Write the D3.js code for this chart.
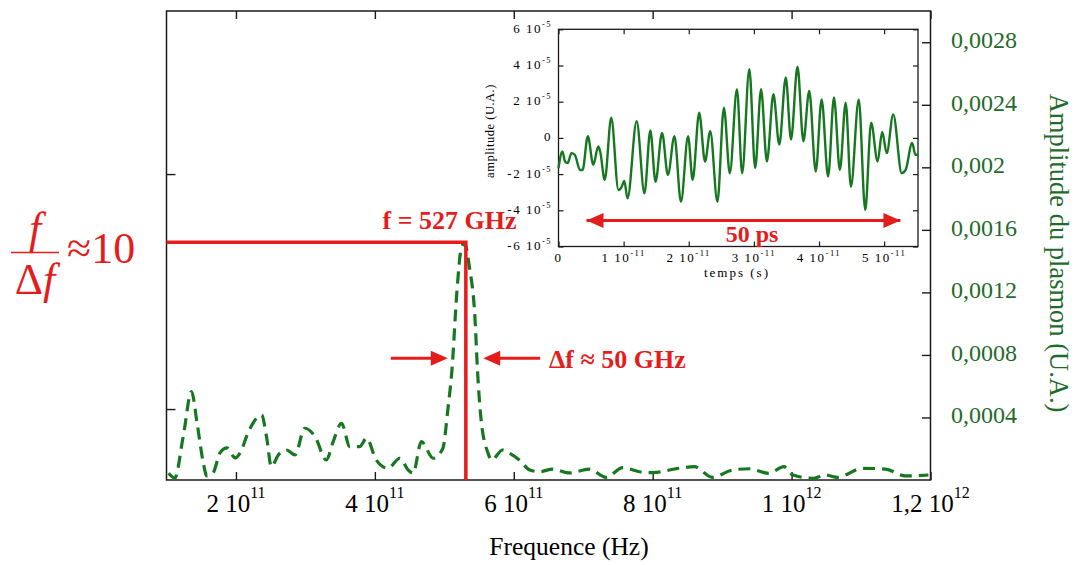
<!DOCTYPE html>
<html><head><meta charset="utf-8">
<script src="https://cdn.jsdelivr.net/npm/d3@7"></script>
<style>body{margin:0;background:#fff;} svg{display:block;}</style>
</head><body>
<svg id="c" width="1077" height="565"></svg>
<script>
// ---------- DATA ----------
// main spectrum (frequency in GHz, amplitude in U.A.)
const spectrumFreqGHz = [103,112,124,136,144,153,158,167,177,187,199,206,218,237,244,251,261,273,285,299,314,330,340,352,364,378,388,402,419,436,448,455,467,484,498,505,511,518,524,529,536,544,548,553,563,568,584,594,608,623,637,656,680,709,733,757,781,800,838,860,886,915,939,967,989,1002,1030,1049,1066,1102,1135,1164,1197];
const spectrumAmp = [0.000043,0.000013,0.000277,0.000565,0.000365,0.000109,0.000026,0.000045,0.000173,0.000205,0.000141,0.000173,0.000309,0.000416,0.000277,0.000085,0.000160,0.000192,0.000160,0.000331,0.000277,0.000128,0.000245,0.000363,0.000213,0.000213,0.000267,0.000128,0.000075,0.000139,0.000064,0.000043,0.000245,0.000139,0.000203,0.000448,0.000704,0.001197,0.001472,0.001515,0.001365,0.001045,0.000683,0.000384,0.000171,0.000128,0.000192,0.000171,0.000128,0.000064,0.000053,0.000070,0.000045,0.000070,0.000017,0.000079,0.000053,0.000047,0.000075,0.000085,0.000017,0.000064,0.000072,0.000043,0.000085,0.000032,0.000011,0.000032,0.000017,0.000075,0.000070,0.000026,0.000032];

// inset time signal (time in ps, amplitude in 1e-5 U.A.)
const signalTimePs = [0.0,0.6,1.0,1.4,2.0,2.5,3.3,3.7,4.5,5.35,6.1,6.4,7.1,8.1,9.2,9.7,10.1,10.6,12.0,13.2,14.1,14.9,15.9,16.8,17.8,18.8,19.9,20.6,21.6,22.5,23.3,24.4,25.4,26.3,27.4,28.2,29.3,30.2,31.1,32.0,33.0,33.9,34.9,35.7,36.7,37.6,38.5,39.5,40.4,41.4,42.3,43.2,44.1,44.9,46.1,47.1,48.0,49.0,49.7,50.4,51.4,52.7,53.3,54.3,54.8,55.2];
const signalAmp = [-1.67,-0.75,-1.30,-1.39,-0.84,-0.93,-1.77,-1.77,0.09,-1.49,-0.47,-0.75,-2.32,1.11,-2.88,-2.70,-2.38,-3.34,0.92,-3.06,0.41,-2.42,0.28,-2.04,0.09,-3.53,0.09,-2.32,1.39,-1.30,0.37,-3.53,1.67,-1.95,2.69,-1.95,3.80,-1.67,2.69,-1.30,2.41,-0.37,3.34,-0.09,3.93,-0.19,2.60,-1.86,2.13,-2.14,2.23,-1.77,1.95,-2.70,2.13,-3.99,0.84,-1.30,0.33,-0.84,1.30,-1.95,-1.77,-0.28,-0.93,-0.93];

// tick values and labels
const xTicks = [200,400,600,800,1000,1200];
const xTickMant = ["2 10","4 10","6 10","8 10","1 10","1,2 10"];
const xTickExp = ["11","11","11","11","12","12"];
const rightTicks = [0.0004,0.0008,0.0012,0.0016,0.002,0.0024,0.0028];
const rightTickLabels = ["0,0004","0,0008","0,0012","0,0016","0,002","0,0024","0,0028"];
const leftTicks = [1,2];
const insetXTicks = [0,10,20,30,40,50];
const insetXMant = ["0","1 10","2 10","3 10","4 10","5 10"];
const insetXExp = ["","-11","-11","-11","-11","-11"];
const insetYTicks = [-6,-4,-2,0,2,4,6];
const insetYMant = ["-6 10","-4 10","-2 10","0","2 10","4 10","6 10"];
const insetYExp = ["-5","-5","-5","","-5","-5","-5"];

// annotations
const peakLineGHz = 531, peakLineAmp = 0.00152;
const dfArrowLeft = [423, 505], dfArrowRight = [638, 556], dfArrowAmp = 0.000778;
const psArrow = [4.3, 52.5], psArrowAmp = -4.57;

// ---------- DRAW ----------
const svg = d3.select("#c");
const FONT = "'Liberation Serif','Times New Roman',Times,serif";
const RED = "#e41c1c", GREEN = "#15781f", TGREEN = "#1f6b2b", INK = "#1a1a1a";

const M = {l:166.5, r:930.5, t:11, b:480};
const x = d3.scaleLinear().domain([100,1200]).range([M.l,M.r]);
const yR = d3.scaleLinear().domain([0,0.003]).range([M.b,M.t]);
const yL = d3.scaleLinear().domain([0.698,2.694]).range([M.b,M.t]);

function tickStyle(g, w){
  g.select(".domain").remove();
  g.selectAll(".tick line").attr("stroke",INK).attr("stroke-width",w||1.4);
  g.selectAll(".tick text").remove();
}

svg.append("g").attr("transform",`translate(0,${M.b})`)
  .call(d3.axisBottom(x).tickValues(xTicks).tickSize(-8).tickFormat("")).call(tickStyle);
svg.append("g").attr("transform",`translate(0,${M.t})`)
  .call(d3.axisTop(x).tickValues(xTicks).tickSize(-8).tickFormat("")).call(tickStyle);
svg.append("g").attr("transform",`translate(${M.l},0)`)
  .call(d3.axisLeft(yL).tickValues(leftTicks).tickSize(-9).tickFormat("")).call(tickStyle);
svg.append("g").attr("transform",`translate(${M.r},0)`)
  .call(d3.axisRight(yR).tickValues(rightTicks).tickSize(-8.5).tickFormat("")).call(tickStyle);

svg.append("rect").attr("x",M.l).attr("y",M.t).attr("width",M.r-M.l).attr("height",M.b-M.t)
  .attr("fill","none").attr("stroke",INK).attr("stroke-width",1.5);

// x tick labels
const xl = svg.append("g").selectAll("text").data(xTicks).join("text")
  .attr("x",d=>x(d)).attr("y",512).attr("text-anchor","middle")
  .attr("font-family",FONT).attr("font-size",25).attr("fill","#000");
xl.append("tspan").text((d,i)=>xTickMant[i]);
xl.append("tspan").attr("font-size",16).attr("dy",-14).text((d,i)=>xTickExp[i]);

svg.append("text").attr("x",569).attr("y",555).attr("text-anchor","middle")
  .attr("font-family",FONT).attr("font-size",25.5).attr("fill","#000").text("Frequence (Hz)");

// right tick labels
svg.append("g").selectAll("text").data(rightTicks).join("text")
  .attr("x",951).attr("y",d=>yR(d)+6).attr("font-family",FONT).attr("font-size",24)
  .attr("fill",TGREEN).text((d,i)=>rightTickLabels[i]);

svg.append("text").attr("transform","translate(1050,253) rotate(90)").attr("text-anchor","middle")
  .attr("font-family",FONT).attr("font-size",26.5).attr("fill",TGREEN).text("Amplitude du plasmon (U.A.)");

// spectrum
const spec = spectrumFreqGHz.map((f,i)=>[f,spectrumAmp[i]]);
svg.append("path").datum(spec)
  .attr("d",d3.line().x(d=>x(d[0])).y(d=>yR(d[1])).curve(d3.curveMonotoneX))
  .attr("fill","none").attr("stroke",GREEN).attr("stroke-width",3.2).attr("stroke-dasharray","12,7");

// red peak lines
svg.append("path")
  .attr("d",`M${x(100)},${yR(peakLineAmp)}H${x(peakLineGHz)}V${yR(0)}`)
  .attr("fill","none").attr("stroke",RED).attr("stroke-width",3.5);

svg.append("text").attr("x",382.5).attr("y",228.5).attr("font-family",FONT).attr("font-weight","bold")
  .attr("font-size",26).attr("fill",RED).text("f = 527 GHz");

function arrow(x1,x2,y,w,hl,hw){
  const dir = x2>x1?1:-1;
  svg.append("line").attr("x1",x1).attr("x2",x2-dir*hl*0.8).attr("y1",y).attr("y2",y)
    .attr("stroke",RED).attr("stroke-width",w);
  svg.append("path").attr("d",`M${x2},${y}L${x2-dir*hl},${y-hw}L${x2-dir*hl},${y+hw}Z`).attr("fill",RED);
}
arrow(x(dfArrowLeft[0]), x(dfArrowLeft[1]), yR(dfArrowAmp), 3, 17, 7.5);
arrow(x(dfArrowRight[0]), x(dfArrowRight[1]), yR(dfArrowAmp), 3, 17, 7.5);
svg.append("text").attr("x",549).attr("y",368).attr("font-family",FONT).attr("font-weight","bold")
  .attr("font-size",26).attr("fill",RED).text("\u0394f \u2248 50 GHz");

// formula f/Δf ≈ 10
svg.append("text").attr("x",35).attr("y",243).attr("text-anchor","middle").attr("font-family",FONT)
  .attr("font-style","italic").attr("font-size",44).attr("fill",RED).text("f");
svg.append("line").attr("x1",11).attr("x2",59).attr("y1",252.5).attr("y2",252.5).attr("stroke",RED).attr("stroke-width",1.5);
const df = svg.append("text").attr("x",35).attr("y",294).attr("text-anchor","middle").attr("font-family",FONT)
  .attr("font-size",44).attr("fill",RED);
df.append("tspan").text("\u0394");
df.append("tspan").attr("font-style","italic").text("f");
svg.append("text").attr("x",67).attr("y",263).attr("font-family",FONT).attr("font-size",44)
  .attr("fill",RED).text("\u224810");

// ---------- INSET ----------
const I = {l:558.5, r:918, t:29.3, b:246.5};
const xi = d3.scaleLinear().domain([0,55.2]).range([I.l,I.r]);
const yi = d3.scaleLinear().domain([-6,6]).range([I.b,I.t]);

svg.append("rect").attr("x",I.l).attr("y",I.t).attr("width",I.r-I.l).attr("height",I.b-I.t)
  .attr("fill","#fff").attr("stroke","none");

svg.append("g").attr("transform",`translate(0,${I.b})`)
  .call(d3.axisBottom(xi).tickValues(insetXTicks).tickSize(-5).tickFormat("")).call(g=>tickStyle(g,1.2));
svg.append("g").attr("transform",`translate(0,${I.t})`)
  .call(d3.axisTop(xi).tickValues(insetXTicks).tickSize(-5).tickFormat("")).call(g=>tickStyle(g,1.2));
svg.append("g").attr("transform",`translate(${I.l},0)`)
  .call(d3.axisLeft(yi).tickValues(insetYTicks).tickSize(-5).tickFormat("")).call(g=>tickStyle(g,1.2));
svg.append("g").attr("transform",`translate(${I.r},0)`)
  .call(d3.axisRight(yi).tickValues(insetYTicks).tickSize(-5).tickFormat("")).call(g=>tickStyle(g,1.2));

svg.append("rect").attr("x",I.l).attr("y",I.t).attr("width",I.r-I.l).attr("height",I.b-I.t)
  .attr("fill","none").attr("stroke",INK).attr("stroke-width",1.3);

const iyl = svg.append("g").selectAll("text").data(insetYTicks).join("text")
  .attr("x",552).attr("y",d=>yi(d)+3.5).attr("text-anchor","end").attr("font-family",FONT)
  .attr("font-size",13).attr("letter-spacing",1.5).attr("fill","#000");
iyl.append("tspan").text((d,i)=>insetYMant[i]);
iyl.append("tspan").attr("font-size",8.5).attr("dy",-6).text((d,i)=>insetYExp[i]);

const ixl = svg.append("g").selectAll("text").data(insetXTicks).join("text")
  .attr("x",d=>xi(d)).attr("y",262).attr("text-anchor","middle").attr("font-family",FONT)
  .attr("font-size",13).attr("letter-spacing",1.5).attr("fill","#000");
ixl.append("tspan").text((d,i)=>insetXMant[i]);
ixl.append("tspan").attr("font-size",8.5).attr("dy",-6).text((d,i)=>insetXExp[i]);

svg.append("text").attr("x",737).attr("y",277).attr("text-anchor","middle").attr("font-family",FONT)
  .attr("font-size",13).attr("letter-spacing",2).attr("fill","#000").text("temps (s)");
svg.append("text").attr("transform","translate(494,131) rotate(-90)").attr("text-anchor","middle")
  .attr("font-family",FONT).attr("font-size",12.5).attr("letter-spacing",0.5).attr("fill","#000").text("amplitude (U.A.)");

const sig = signalTimePs.map((t,i)=>[t,signalAmp[i]]);
svg.append("path").datum(sig)
  .attr("d",d3.line().x(d=>xi(d[0])).y(d=>yi(d[1])).curve(d3.curveMonotoneX))
  .attr("fill","none").attr("stroke",GREEN).attr("stroke-width",2.4);

arrow(xi(psArrow[1]), xi(psArrow[0]), yi(psArrowAmp), 3, 17, 7.5);
arrow(xi(psArrow[0]), xi(psArrow[1]), yi(psArrowAmp), 3, 17, 7.5);
svg.append("text").attr("x",752).attr("y",242).attr("text-anchor","middle").attr("font-family",FONT)
  .attr("font-weight","bold").attr("font-size",24).attr("fill",RED).text("50 ps");
</script>
</body></html>
